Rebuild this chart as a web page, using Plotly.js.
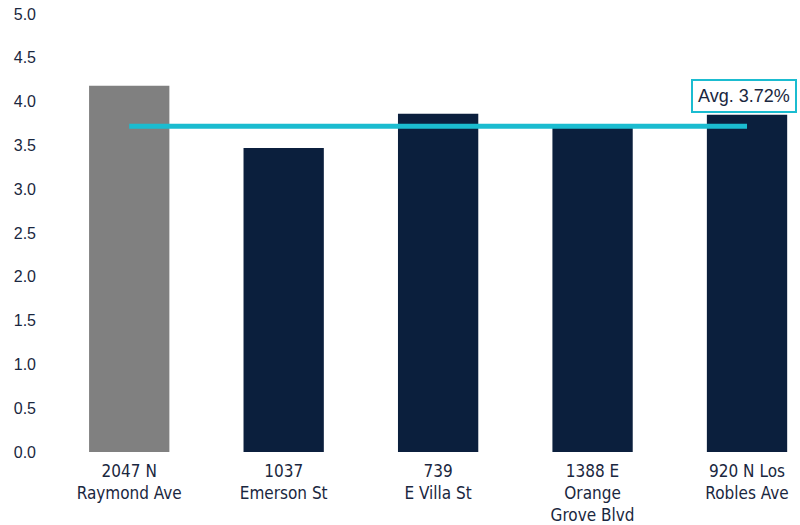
<!DOCTYPE html>
<html><head><meta charset="utf-8">
<script src="https://cdn.plot.ly/plotly-3.0.1.min.js"></script>
<style>body{margin:0;background:#fff}#c{width:800px;height:525px}</style>
</head><body><div id="c"></div>
<script>
const categories = ["2047 N<br>Raymond Ave","1037<br>Emerson St","739<br>E Villa St","1388 E<br>Orange<br>Grove Blvd","920 N Los<br>Robles Ave"];
const values = [4.18, 3.47, 3.86, 3.70, 3.85];
const barColors = ["#808080","#0B1F3D","#0B1F3D","#0B1F3D","#0B1F3D"];
const avgValue = 3.72;
const avgLabel = "Avg. 3.72%";
const yTicks = [0,0.5,1,1.5,2,2.5,3,3.5,4,4.5,5];

const idx = categories.map((c,i)=>i);
const traces = [
  {type:"bar", x:idx, y:values, marker:{color:barColors}, width:0.52, hoverinfo:"skip"},
  {type:"scatter", mode:"lines", x:[idx[0], idx[idx.length-1]], y:[avgValue, avgValue],
   line:{color:"#1BBCD0", width:5}, hoverinfo:"skip"}
];
const layout = {
  width:800, height:525,
  margin:{l:52, r:0, t:14, b:73},
  paper_bgcolor:"#fff", plot_bgcolor:"#fff",
  showlegend:false,
  font:{family:"Liberation Sans, Arial, sans-serif", color:"#1A2740", size:13},
  xaxis:{range:[-0.5, 4.343], tickvals:idx, ticktext:categories, showgrid:false, zeroline:false,
         showline:false, ticks:"", ticklabelstandoff:7,
         tickfont:{family:"Liberation Sans Narrow, DejaVu Sans Condensed, Liberation Sans, sans-serif", size:17, color:"#1A2740"}},
  yaxis:{range:[0,5], tickvals:yTicks, ticktext:yTicks.map(v=>v.toFixed(1)), showgrid:false, zeroline:false,
         showline:false, ticks:"", ticklabelstandoff:15, tickfont:{size:16, color:"#1A2740"}},
  annotations:[{x:idx[idx.length-1], y:avgValue, xref:"x", yref:"y", text:avgLabel, showarrow:false,
    xshift:-3, yshift:30, bordercolor:"#1BBCD0", borderwidth:2, borderpad:5, bgcolor:"#fff",
    font:{size:18, color:"#1A2740"}}]
};
Plotly.newPlot("c", traces, layout, {displayModeBar:false, staticPlot:true});
</script></body></html>
